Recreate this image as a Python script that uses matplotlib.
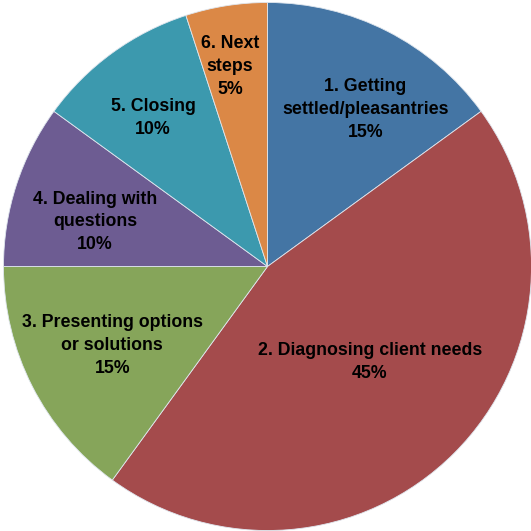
import numpy as np
import matplotlib
matplotlib.use("Agg")
import matplotlib.pyplot as plt

labels = ["1. Getting\nsettled/pleasantries", "2. Diagnosing client needs",
          "3. Presenting options\nor solutions", "4. Dealing with\nquestions",
          "5. Closing", "6. Next\nsteps"]
shares = [15, 45, 15, 10, 10, 5]
colors = ["#4475A4", "#A44B4C", "#86A55A", "#6D5C92", "#3C99AE", "#DB8846"]

# label placement (radius fraction, angle tweak in degrees)
label_r = [0.70, 0.53, 0.66, 0.675, 0.71, 0.77]
label_da = [-5, 2, 0, 3.5, 1.6, 1.6]

fig = plt.figure(figsize=(5.31, 5.31), dpi=100)
ax = fig.add_axes([0, 0, 1, 1])
R = 264.0
cx, cy = 267.5, 266.5
wedges, _ = ax.pie(shares, colors=colors, startangle=90, counterclock=False,
                   radius=1.0, wedgeprops=dict(edgecolor="#dfe6ee", linewidth=0.6))
ax.set_xlim(-cx / R, (531 - cx) / R)
ax.set_ylim((cy - 531) / R, cy / R)
ax.set_aspect("auto")
ax.axis("off")

for w, lab, s, r, da in zip(wedges, labels, shares, label_r, label_da):
    mid = np.deg2rad((w.theta1 + w.theta2) / 2 + da)
    ax.text(r * np.cos(mid), r * np.sin(mid), f"{lab}\n{s}%", ha="center", va="center",
            fontsize=12.8, fontweight="bold", family="Liberation Sans",
            color="#000000", linespacing=1.45)

fig.savefig("out.png", dpi=100)
